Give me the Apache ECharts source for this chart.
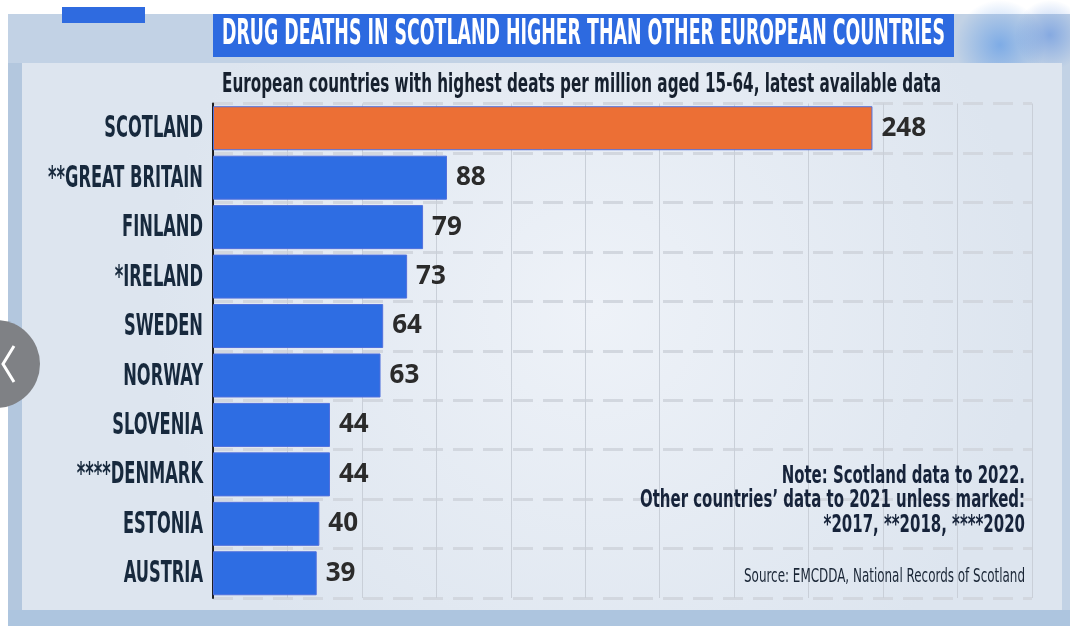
<!DOCTYPE html>
<html>
<head>
<meta charset="utf-8">
<script src="https://cdn.jsdelivr.net/npm/echarts@6/dist/echarts.min.js"></script>
<style>
html,body{margin:0;padding:0;background:#ffffff;}
#main{width:1070px;height:626px;}
</style>
</head>
<body>
<div id="main"></div>
<script>
// ---- data ----
const categories = ['SCOTLAND', '**GREAT BRITAIN', 'FINLAND', '*IRELAND', 'SWEDEN', 'NORWAY', 'SLOVENIA', '****DENMARK', 'ESTONIA', 'AUSTRIA'];
const deathsPerMillion = [248, 88, 79, 73, 64, 63, 44, 44, 40, 39];
const highlightCategory = 'SCOTLAND';
const titleText = 'DRUG DEATHS IN SCOTLAND HIGHER THAN OTHER EUROPEAN COUNTRIES';
const subtitleText = 'European countries with highest deats per million aged 15-64, latest available data';
const noteLines = ['Note: Scotland data to 2022.', 'Other countries\u2019 data to 2021 unless marked:', '*2017, **2018, ****2020'];
const sourceText = 'Source: EMCDDA, National Records of Scotland';

// ---- helpers ----
const NARROW = '"Liberation Sans Narrow", "DejaVu Sans Condensed", sans-serif';
const mctx = document.createElement('canvas').getContext('2d');
function textW(str, size, weight) {
  mctx.font = weight + ' ' + size + 'px ' + NARROW;
  return mctx.measureText(str).width;
}
function scaledText(str, x, cy, size, weight, color, align, sx) {
  return {
    type: 'text', x: x, y: cy, scaleX: sx, z: 10,
    style: {
      text: str, x: 0, y: 0,
      fontFamily: NARROW, fontWeight: weight, fontSize: size,
      fill: color, align: align, textAlign: align,
      verticalAlign: 'middle', textVerticalAlign: 'middle'
    }
  };
}
function fitText(str, left, right, cy, size, weight, color, align) {
  const sx = (right - left) / textW(str, size, weight);
  return scaledText(str, align === 'right' ? right : left, cy, size, weight, color, align, sx);
}

const LABEL_SIZE = 31;
const labelScale = 155 / textW('**GREAT BRITAIN', LABEL_SIZE, 'bold');
const noteScale = 385 / textW(noteLines[1], 25, 'bold');

const graphics = [
  // outer frame
  { type: 'rect', z: -20, shape: { x: 8, y: 14, width: 1062, height: 612 }, style: { fill: '#c2d2e5' } },
  { type: 'rect', z: -19, shape: { x: 8, y: 610, width: 1062, height: 16 }, style: { fill: '#adc5df' } },
  { type: 'rect', z: -19, shape: { x: 8, y: 63, width: 14, height: 547 }, style: { fill: '#b3c7de' } },
  // top-right blur blobs
  { type: 'circle', z: -18, shape: { cx: 1000, cy: 45, r: 45 },
    style: { fill: { type: 'radial', x: 0.5, y: 0.5, r: 0.5, colorStops: [{ offset: 0, color: 'rgba(70,140,230,0.55)' }, { offset: 1, color: 'rgba(70,140,230,0)' }] } } },
  { type: 'circle', z: -18, shape: { cx: 1050, cy: 35, r: 35 },
    style: { fill: { type: 'radial', x: 0.5, y: 0.5, r: 0.5, colorStops: [{ offset: 0, color: 'rgba(60,120,220,0.45)' }, { offset: 1, color: 'rgba(60,120,220,0)' }] } } },
  // inner panel
  { type: 'rect', z: -17, shape: { x: 22, y: 63, width: 1040, height: 547 },
    style: { fill: { type: 'radial', x: 0.55, y: 0.45, r: 0.8, colorStops: [{ offset: 0, color: '#eef2f8' }, { offset: 1, color: '#dde5ef' }] } } },
  // small blue tab
  { type: 'rect', z: 5, shape: { x: 62, y: 7, width: 83, height: 16 }, style: { fill: '#2f6be0' } },
  // title box
  { type: 'rect', z: 5, shape: { x: 213, y: 14, width: 741, height: 43 }, style: { fill: '#2d6ae0' } },
  fitText(titleText, 222, 945, 35, 35, 'bold', '#ffffff', 'left'),
  fitText(subtitleText, 222, 941, 85, 26, 'bold', '#16202e', 'left'),
  // source
  fitText(sourceText, 744, 1025, 577, 19, 'normal', '#1a2636', 'right'),
  // carousel arrow overlay
  { type: 'circle', z: 20, shape: { cx: -4, cy: 364, r: 44 }, style: { fill: '#7f8185' } },
  { type: 'polyline', z: 21, shape: { points: [[14, 346], [3, 364], [14, 382]] }, style: { stroke: '#ffffff', lineWidth: 3, fill: null } }
];
const noteY = [476, 500.5, 525];
noteLines.forEach(function (line, i) {
  graphics.push(scaledText(line, 1025, noteY[i], 25, 'bold', '#16233a', 'right', noteScale));
});

const chart = echarts.init(document.getElementById('main'), null, { renderer: 'canvas' });
chart.setOption({
  backgroundColor: '#ffffff',
  animation: false,
  graphic: graphics,
  grid: { left: 213, right: 38, top: 103.5, bottom: 28, containLabel: false, outerBoundsMode: 'none' },
  xAxis: {
    type: 'value', min: 0, max: 308, interval: 28,
    axisLabel: { show: false }, axisLine: { show: false }, axisTick: { show: false },
    splitLine: { show: true, lineStyle: { color: '#c9cfd8', width: 1 } }
  },
  yAxis: {
    type: 'category', data: categories, inverse: true,
    axisLine: { show: true, lineStyle: { color: '#1d1f22', width: 2 } },
    axisTick: { show: false },
    axisLabel: { show: false },
    splitLine: { show: true, lineStyle: { color: '#d2d7df', width: 3, type: [20, 10] } }
  },
  series: [{
    type: 'bar',
    data: deathsPerMillion,
    barCategoryGap: '11%',
    itemStyle: {
      color: function (p) { return categories[p.dataIndex] === highlightCategory ? '#ec6f35' : '#2e6de3'; },
      borderColor: function (p) { return categories[p.dataIndex] === highlightCategory ? '#b8562a' : '#2e6de3'; },
      borderWidth: 1
    },
    label: {
      show: true, position: 'right', distance: 9,
      fontFamily: '"Open Sans", sans-serif', fontWeight: 'bold', fontSize: 26, color: '#2b2b2b'
    }
  }]
});

// category labels placed through the category axis scale (condensed look via scaleX)
const labelGraphics = categories.map(function (cat) {
  const pt = chart.convertToPixel({ gridIndex: 0 }, [0, cat]);
  return scaledText(cat, pt[0] - 10, pt[1] + 1, LABEL_SIZE, 'bold', '#17293d', 'right', labelScale);
});
chart.setOption({ graphic: graphics.concat(labelGraphics) });
</script>
</body>
</html>
